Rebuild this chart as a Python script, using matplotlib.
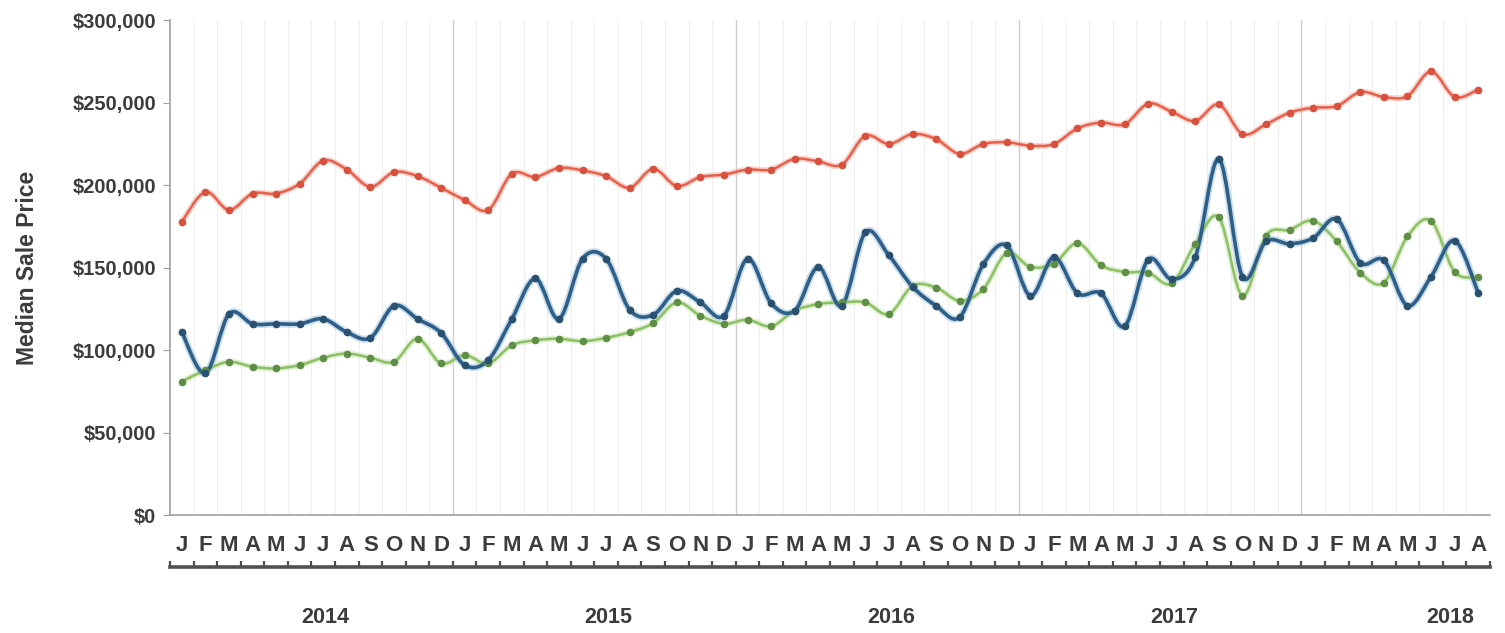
#!/usr/bin/env python3
# -*- coding: utf-8 -*-
"""
Median sale price by month, 2014 - Aug 2018, three smoothed series.
"""

import numpy as np
import matplotlib
matplotlib.use("Agg")
import matplotlib.pyplot as plt
from matplotlib.path import Path
from matplotlib.patches import PathPatch
from matplotlib.ticker import FuncFormatter

plt.rcParams['font.family'] = ['Liberation Sans', 'DejaVu Sans']

# months Jan 2014 .. Aug 2018
month_letters = list("JFMAMJJASOND") * 4 + list("JFMAMJJA")
years = ['2014', '2015', '2016', '2017', '2018']
year_months = [12, 12, 12, 12, 8]

red_values = [178000, 196000, 185000, 195000, 195000, 201000, 215000, 209500, 199000, 208000,
              205500, 198500, 191000, 185000, 207000, 205000, 210500, 209000, 205500, 198500,
              210000, 199500, 205000, 206500, 209500, 209500, 216000, 214500, 212500, 230000,
              225000, 231000, 228000, 219000, 225000, 226000, 224000, 225000, 234500, 238000,
              237000, 249500, 244500, 239000, 249000, 231000, 237000, 244000, 247000, 248000,
              256500, 253500, 254000, 269000, 253500, 258000]

blue_values = [111000, 86000, 122000, 116000, 116000, 116000, 119000, 111000, 107500, 127000,
               119000, 110500, 91000, 94000, 119000, 143500, 119000, 155500, 155500, 124500,
               121500, 136000, 129000, 121000, 155500, 128500, 124000, 150500, 127000, 171500,
               157500, 138500, 127000, 120000, 152000, 163500, 133000, 156500, 134500, 134500,
               114500, 155000, 143000, 156500, 216000, 144500, 166000, 164500, 168000, 179500,
               153000, 154500, 127000, 144500, 166500, 135000]

green_values = [81000, 88000, 93000, 90000, 89000, 91000, 95500, 98000, 95500, 93000,
                107000, 92000, 97000, 92000, 103000, 106000, 107000, 105500, 107500, 111000,
                116500, 129000, 121000, 116000, 118500, 114500, 124000, 128000, 129000, 129000,
                122000, 139000, 138000, 130000, 137000, 159000, 150500, 152500, 165000, 151500,
                147500, 147000, 140500, 164500, 180500, 133000, 169500, 173000, 178500, 166000,
                147000, 141000, 169000, 178500, 147500, 144500]

TEXT = '#3c3c3c'


def smooth_path(x, y):
    """Bezier path through every point (Excel style smoothing)."""
    pts = np.column_stack([x, y]).astype(float)
    n = len(pts)
    verts = [pts[0]]
    codes = [Path.MOVETO]
    for i in range(n - 1):
        p0 = pts[i - 1] if i > 0 else pts[i]
        p1 = pts[i]
        p2 = pts[i + 1]
        p3 = pts[i + 2] if i + 2 < n else pts[i + 1]
        c1 = p1 + (p2 - p0) / 6.0
        c2 = p2 - (p3 - p1) / 6.0
        verts += [c1, c2, p2]
        codes += [Path.CURVE4] * 3
    return Path(verts, codes)


def draw_series(ax, values, line_color, halo_color, marker_color, lw):
    x = np.arange(len(values))
    ax.add_patch(PathPatch(smooth_path(x, values), fill=False, edgecolor=halo_color,
                           lw=lw + 2.5, alpha=0.55, zorder=3, capstyle='round'))
    ax.add_patch(PathPatch(smooth_path(x, values), fill=False, edgecolor=line_color,
                           lw=lw, zorder=4, capstyle='round'))
    ax.plot(x, values, 'o', ms=4.5, color=marker_color, mec=marker_color, zorder=5)


fig = plt.figure(figsize=(15.05, 6.33), dpi=100)
ax = fig.add_axes([0.113, 0.186, 0.877, 0.782])

n = len(month_letters)
ax.set_xlim(-0.5, n - 0.5)
ax.set_ylim(0, 300000)

# vertical grid at month boundaries, a bit darker between years
bounds = np.arange(0.5, n - 0.5)
for b in bounds:
    is_year = (int(b + 0.5) % 12 == 0)
    ax.axvline(b, color='#cfcfcf' if is_year else '#efefef', lw=1.0 if is_year else 0.8, zorder=1)

draw_series(ax, red_values, '#e8604c', '#f6b3a6', '#d8503e', 1.8)
draw_series(ax, green_values, '#8cc063', '#c9e3b4', '#5f8f46', 1.8)
draw_series(ax, blue_values, '#2f5f86', '#9cc3e0', '#2a506f', 2.6)

# axes styling
for side in ['top', 'right']:
    ax.spines[side].set_visible(False)
ax.spines['left'].set_color('#a0a0a0')
ax.spines['bottom'].set_color('#a0a0a0')
ax.spines['left'].set_linewidth(1.2)
ax.spines['bottom'].set_linewidth(1.2)

ax.set_yticks(np.arange(0, 300001, 50000))
ax.yaxis.set_major_formatter(FuncFormatter(lambda v, p: f'${v:,.0f}'))
ax.tick_params(axis='y', length=5, color='#a0a0a0', labelsize=14.5, labelcolor=TEXT, pad=5)
for lab in ax.get_yticklabels():
    lab.set_fontweight('bold')

ax.set_xticks(np.arange(n))
ax.set_xticklabels(month_letters, fontsize=16, fontweight='bold', color=TEXT)
ax.tick_params(axis='x', length=0, pad=14)

ax.set_ylabel('Median Sale Price', fontsize=16.5, fontweight='bold', color=TEXT, labelpad=24)

# bracket line under the month letters
tr = ax.get_xaxis_transform()
ax.plot([-0.5, n - 0.5], [-0.105, -0.105], color='#505050', lw=2.6, transform=tr, clip_on=False)
ax.vlines(np.arange(-0.5, n), -0.105, -0.092, color='#505050', lw=1.6, transform=tr, clip_on=False)

# year labels
start = 0
for yr, cnt in zip(years, year_months):
    centre = start + (cnt - 1) / 2.0 + 0.6
    if cnt < 12:
        centre = start + cnt - 2.2
    ax.text(centre, -0.207, yr, transform=tr, ha='center', va='center',
            fontsize=15.5, fontweight='bold', color=TEXT)
    start += cnt

fig.savefig('out.png', dpi=100)
